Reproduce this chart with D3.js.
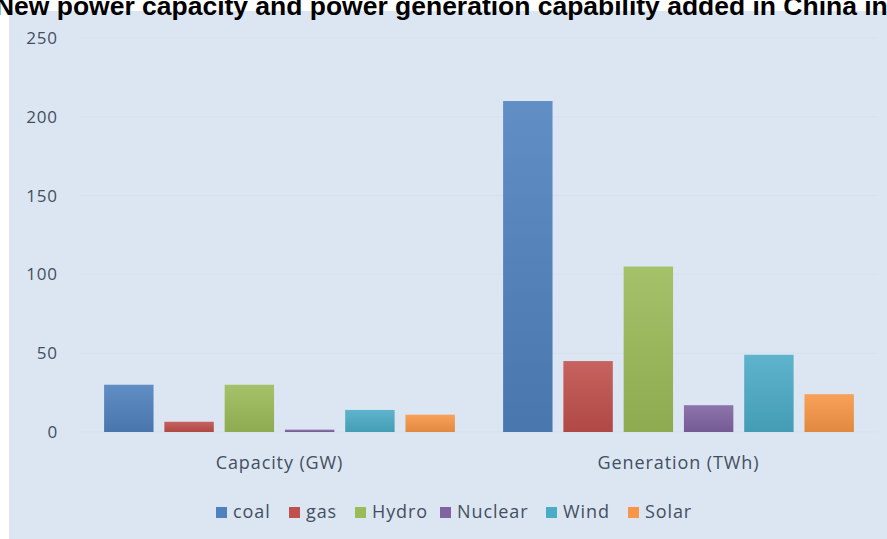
<!DOCTYPE html>
<html>
<head>
<meta charset="utf-8">
<script src="https://cdn.jsdelivr.net/npm/d3@7"></script>
<style>
  html, body { margin: 0; padding: 0; background: #ffffff; overflow: hidden; }
  svg { display: block; }
</style>
</head>
<body>
<svg id="chart" width="887" height="539"></svg>
<script>
// Data
const groups = ["Capacity (GW)", "Generation (TWh)"];
const series = ["coal", "gas", "Hydro", "Nuclear", "Wind", "Solar"];
const capacity = [30, 6.5, 30, 1.5, 14, 11];
const generation = [210, 45, 105, 17, 49, 24];
const yTicks = [0, 50, 100, 150, 200, 250];
const colors = ["#4f81bd", "#c0504d", "#9bbb59", "#8064a2", "#4bacc6", "#f79646"];
const title = "New power capacity and power generation capability added in China in";

const valuesByGroup = [capacity, generation];

const svg = d3.select("#chart");
const W = 887, H = 539;

// Chart area background
svg.append("rect")
  .attr("x", 9).attr("y", 11)
  .attr("width", W - 9).attr("height", H - 11)
  .attr("fill", "#dce6f2");

// Gradients for bars (lighter at top, deeper at bottom)
const defs = svg.append("defs");
series.forEach((s, i) => {
  const c = d3.color(colors[i]);
  const g = defs.append("linearGradient")
    .attr("id", "grad" + i)
    .attr("x1", 0).attr("y1", 0).attr("x2", 0).attr("y2", 1);
  g.append("stop").attr("offset", "0%").attr("stop-color", d3.interpolateRgb(c, "#ffffff")(0.1));
  g.append("stop").attr("offset", "100%").attr("stop-color", c.darker(0.25));
});

// Scales
const y = d3.scaleLinear().domain([0, 250]).range([432, 38]);
const x0 = d3.scaleBand().domain(groups).range([80, 878]);
const x1 = d3.scaleBand().domain(series).range([0, x0.bandwidth()])
  .paddingInner(0.18).paddingOuter(0.4);

const textFont = "'Open Sans', Lato, sans-serif";
const textColor = "#434f61";
const textSize = 18;
const spacing = "0.9px";

// Gridlines (very faint)
svg.append("g")
  .selectAll("line")
  .data(yTicks)
  .join("line")
  .attr("x1", 80).attr("x2", 878)
  .attr("y1", d => y(d)).attr("y2", d => y(d))
  .attr("stroke", "#d7e1ed").attr("stroke-width", 1);

// Y axis labels
const yAxis = d3.axisLeft(y).tickValues(yTicks).tickSize(0).tickPadding(0);
const gy = svg.append("g").attr("transform", "translate(58,0)").call(yAxis);
gy.select(".domain").remove();
gy.selectAll("text")
  .attr("font-family", textFont)
  .attr("font-size", 17)
  .attr("letter-spacing", spacing)
  .attr("fill", textColor);

// Bars
const groupG = svg.append("g")
  .selectAll("g")
  .data(groups)
  .join("g")
  .attr("transform", d => `translate(${x0(d)},0)`);

groupG.selectAll("rect")
  .data((g, gi) => series.map((s, si) => ({ s, si, v: valuesByGroup[gi][si] })))
  .join("rect")
  .attr("x", d => x1(d.s))
  .attr("width", x1.bandwidth())
  .attr("y", d => y(d.v))
  .attr("height", d => y(0) - y(d.v))
  .attr("fill", d => `url(#grad${d.si})`);

// Category axis
const xAxis = d3.axisBottom(x0).tickSize(0).tickPadding(0);
const gx = svg.append("g").attr("transform", "translate(0,469)").call(xAxis);
gx.select(".domain").remove();
gx.selectAll("text")
  .attr("dy", 0)
  .attr("font-family", textFont)
  .attr("font-size", textSize)
  .attr("letter-spacing", spacing)
  .attr("fill", textColor);

// Legend
const legendX = [216, 289, 355, 440, 546, 628];
const legend = svg.append("g")
  .selectAll("g")
  .data(series)
  .join("g")
  .attr("transform", (d, i) => `translate(${legendX[i]},518)`);
legend.append("rect")
  .attr("x", 0).attr("y", -11)
  .attr("width", 11).attr("height", 11)
  .attr("fill", (d, i) => colors[i]);
legend.append("text")
  .attr("x", 17).attr("y", 0)
  .attr("font-family", textFont)
  .attr("font-size", textSize)
  .attr("letter-spacing", spacing)
  .attr("fill", textColor)
  .text(d => d);

// Title: sized so it spans the full page width, running past both edges
const titleEl = svg.append("text")
  .attr("x", -5).attr("y", 15)
  .attr("font-family", "'Liberation Sans', Arial, sans-serif")
  .attr("font-weight", "bold")
  .attr("font-size", 20)
  .attr("fill", "#000000")
  .text(title);
const baseLen = titleEl.node().getComputedTextLength();
titleEl.attr("font-size", 20 * 893 / baseLen);
</script>
</body>
</html>
